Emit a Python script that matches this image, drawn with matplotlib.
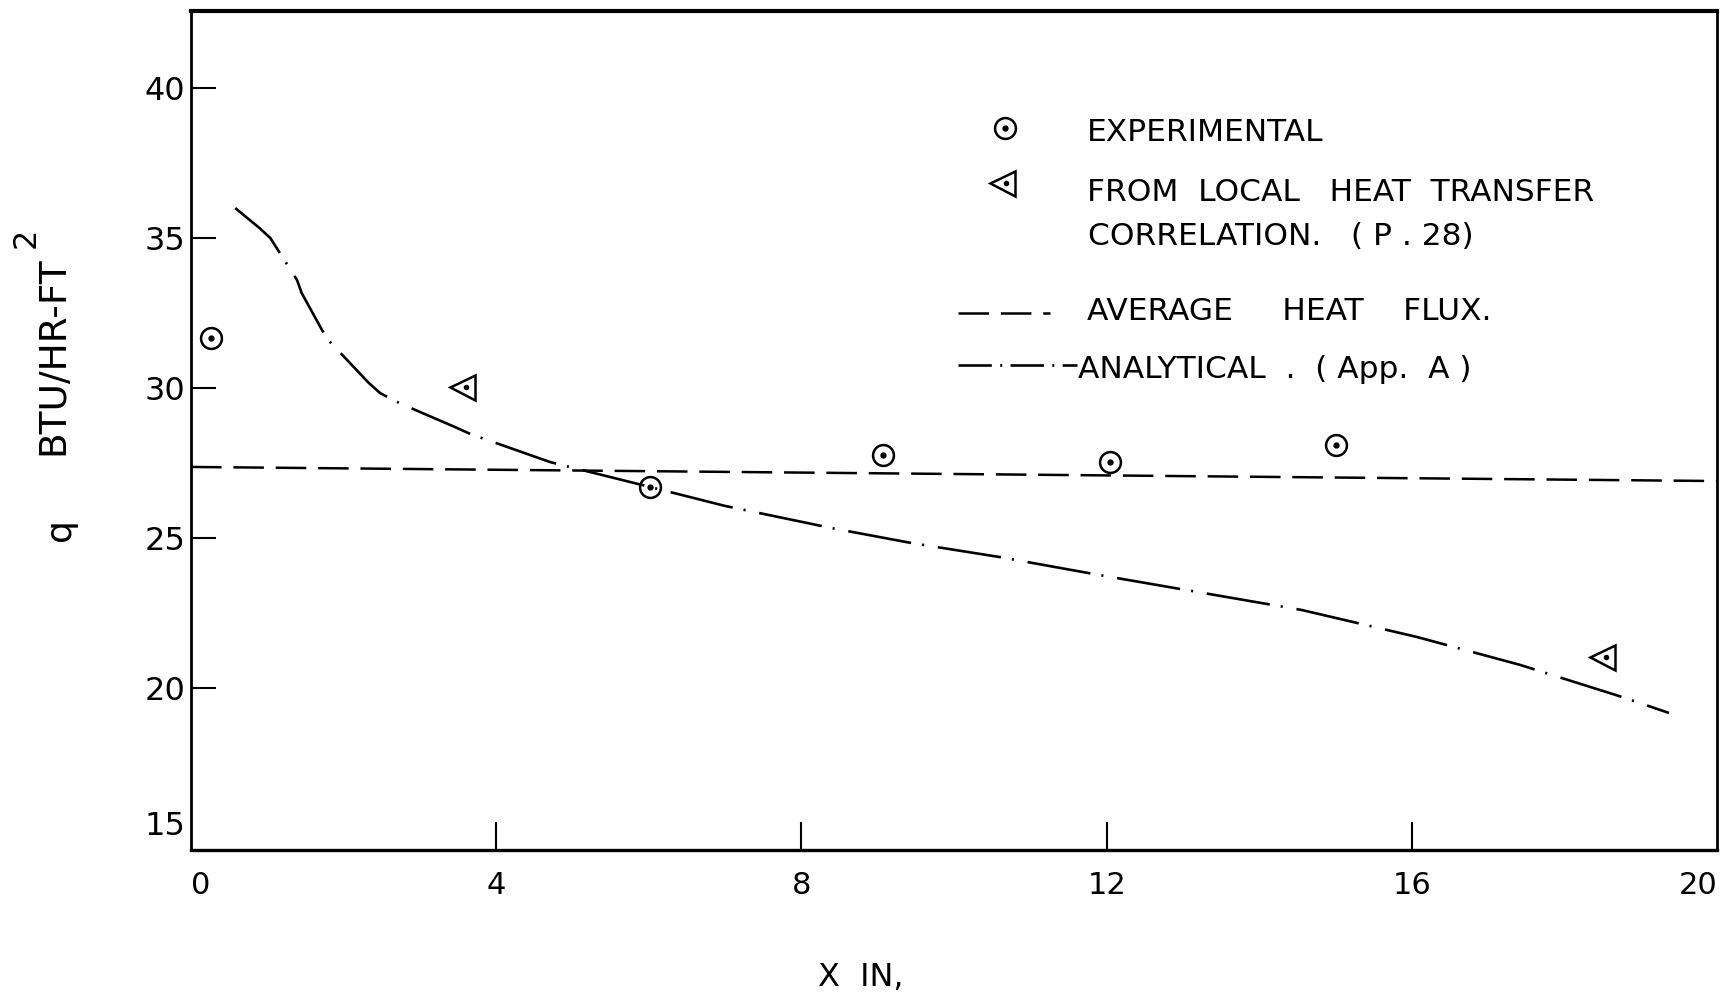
import matplotlib.pyplot as plt
from matplotlib.lines import Line2D
from matplotlib.transforms import ScaledTranslation

plt.rcParams['font.family'] = ['DejaVu Sans']
plt.rcParams['lines.scale_dashes'] = False

# experimental points (circles with a dot)
exp_x = [0.26, 6.02, 9.07, 12.04, 15.0]
exp_q = [31.67, 26.7, 27.77, 27.53, 28.1]

# from local heat transfer correlation (triangles)
corr_x = [3.55, 18.49]
corr_q = [30.03, 21.03]

# average heat flux (hand drawn, slightly sloping)
avg_x = [0.0, 20.0]
avg_q = [27.37, 26.9]

# analytical curve (App. A)
ana_x = [0.58, 0.90, 1.04, 1.39, 1.45, 1.74, 1.81, 2.33, 2.48, 2.73, 3.46, 3.66,
         4.71, 5.39, 6.02, 7.0, 8.4, 9.45, 10.59, 11.9, 14.56, 16.07, 17.42,
         18.72, 19.37]
ana_q = [36.0, 35.33, 35.0, 33.6, 33.17, 31.83, 31.57, 30.17, 29.83, 29.5, 28.7,
         28.47, 27.53, 27.1, 26.7, 26.07, 25.33, 24.83, 24.37, 23.77, 22.6, 21.7,
         20.77, 19.73, 19.17]

x_ticks = [0, 4, 8, 12, 16, 20]
y_ticks = [15, 20, 25, 30, 35, 40]

fig = plt.figure(figsize=(17.25, 10), dpi=100)
ax = fig.add_axes([191 / 1725, 0.15, 1526 / 1725, 0.839])

ax.plot(avg_x, avg_q, color='black', lw=1.8, dashes=(22, 8.5))
ax.plot(ana_x, ana_q, color='black', lw=1.9, dashes=(46, 8, 1.5, 10))
ax.plot(exp_x, exp_q, 'o', ms=15, mfc='none', mec='black', mew=1.8)
ax.plot(exp_x, exp_q, 'o', ms=3.5, color='black')
ax.plot(corr_x, corr_q, '<', ms=18, mfc='none', mec='black', mew=1.8)
shift = ax.transData + ScaledTranslation(0.04, 0, fig.dpi_scale_trans)
ax.plot(corr_x, corr_q, 'o', ms=3, color='black', transform=shift)

ax.set_xlim(0, 20)
ax.set_ylim(14.6, 42.57)

ax.set_xticks(x_ticks)
ax.set_xticklabels([str(t) for t in x_ticks])
ax.set_yticks(y_ticks)
ax.set_yticklabels([str(t) for t in y_ticks])
ax.tick_params(axis='x', direction='in', length=20, width=1.5, pad=15, labelsize=22)
ax.tick_params(axis='y', direction='in', length=18, width=1.5, pad=4, labelsize=23)
xt = ax.xaxis.get_major_ticks()
xt[0].tick1line.set_visible(False)
xt[-1].tick1line.set_visible(False)
ax.yaxis.get_major_ticks()[0].tick1line.set_visible(False)
ax.get_xticklabels()[0].set_ha('left')
ax.get_xticklabels()[-1].set_ha('right')
# the "15" is lettered a little above its level, clear of the corner
lab15 = ax.get_yticklabels()[0]
lab15.set_transform(lab15.get_transform() + ScaledTranslation(0, 0.15, fig.dpi_scale_trans))

ax.spines['top'].set_linewidth(3)
ax.spines['bottom'].set_linewidth(2.4)
ax.spines['left'].set_linewidth(2)
ax.spines['right'].set_linewidth(2)

# hand-lettered key
ax.plot([0.5334], [0.8606], 'o', ms=15, mfc='none', mec='black', mew=1.8,
        transform=ax.transAxes)
ax.plot([0.5334], [0.8606], 'o', ms=3.5, color='black', transform=ax.transAxes)
ax.plot([0.5315], [0.7944], '<', ms=18, mfc='none', mec='black', mew=1.8,
        transform=ax.transAxes)
ax.plot([0.5340], [0.7944], 'o', ms=3, color='black', transform=ax.transAxes)
ax.add_line(Line2D([0.5026, 0.5629], [0.6400, 0.6400], color='black', lw=1.8,
                   dashes=(22, 8.5), transform=ax.transAxes))
ax.add_line(Line2D([0.5026, 0.5806], [0.5780, 0.5780], color='black', lw=1.9,
                   dashes=(24, 6, 1.5, 6), transform=ax.transAxes))

fs = 22.5
ax.text(0.5872, 0.8450, 'EXPERIMENTAL', fontsize=fs, transform=ax.transAxes, va='baseline')
ax.text(0.5872, 0.7735, 'FROM  LOCAL   HEAT  TRANSFER', fontsize=fs,
        transform=ax.transAxes, va='baseline')
ax.text(0.5878, 0.7211, 'CORRELATION.   ( P . 28)', fontsize=fs,
        transform=ax.transAxes, va='baseline')
ax.text(0.5872, 0.6317, 'AVERAGE     HEAT    FLUX.', fontsize=fs,
        transform=ax.transAxes, va='baseline')
ax.text(0.5813, 0.5626, 'ANALYTICAL  .  ( App.  A )', fontsize=fs,
        transform=ax.transAxes, va='baseline')

# axis labels
fig.text(0.035, 0.47, 'q', fontsize=26, rotation=90, ha='center', va='center')
fig.text(0.0307, 0.644, 'BTU/HR-FT', fontsize=27, rotation=90, ha='center', va='center')
fig.text(0.0150, 0.762, '2', fontsize=23, rotation=90, ha='center', va='center')
fig.text(861 / 1725, 0.022, 'X  IN,', fontsize=23, ha='center', va='center')

fig.savefig('out.png', dpi=100, facecolor='white')
